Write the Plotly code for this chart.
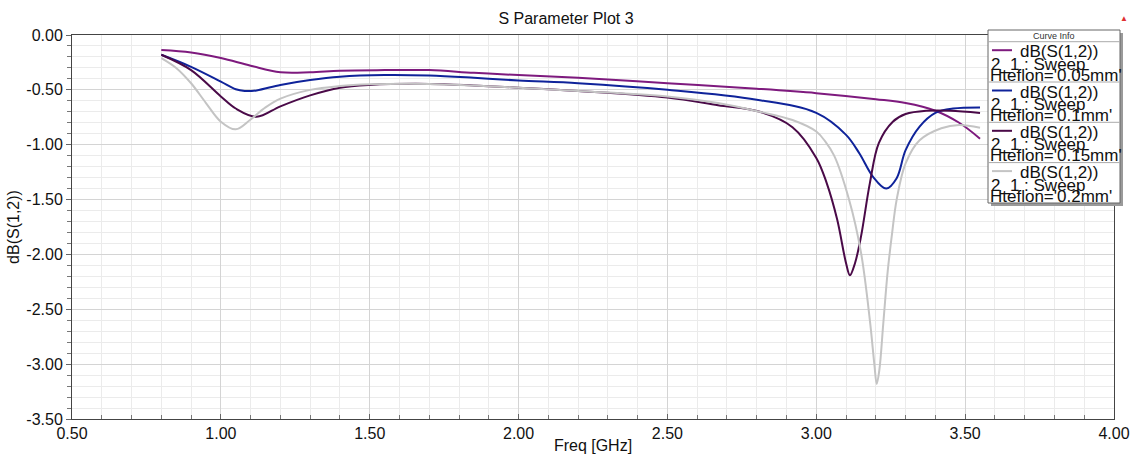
import plotly.graph_objects as go

# ---------------- data ----------------
f_005 = [0.80, 0.90, 1.00, 1.10, 1.20, 1.30, 1.40, 1.55, 1.70, 1.85, 2.00, 2.20, 2.50, 2.80, 3.00,
         3.20, 3.30, 3.40, 3.48, 3.55]
s_005 = [-0.137, -0.16, -0.21, -0.28, -0.34, -0.34, -0.325, -0.32, -0.32, -0.345, -0.365, -0.39,
         -0.44, -0.49, -0.53, -0.585, -0.62, -0.69, -0.80, -0.945]

f_010 = [0.80, 0.90, 1.00, 1.05, 1.08, 1.12, 1.20, 1.30, 1.40, 1.55, 1.70, 1.85, 2.00, 2.20, 2.50,
         2.80, 3.00, 3.10, 3.145, 3.19, 3.235, 3.27, 3.30, 3.347, 3.40, 3.46, 3.55]
s_010 = [-0.18, -0.29, -0.425, -0.495, -0.51, -0.505, -0.455, -0.41, -0.38, -0.365, -0.37, -0.39,
         -0.415, -0.44, -0.50, -0.59, -0.71, -0.91, -1.08, -1.29, -1.40, -1.305, -1.05, -0.835,
         -0.71, -0.67, -0.66]

f_015 = [0.80, 0.90, 1.00, 1.05, 1.12, 1.20, 1.30, 1.40, 1.50, 1.70, 1.85, 2.00, 2.20, 2.50, 2.67,
         2.81, 2.92, 3.00, 3.035, 3.07, 3.10, 3.113, 3.13, 3.15, 3.18, 3.21, 3.257, 3.30, 3.37, 3.45,
         3.55]
s_015 = [-0.18, -0.32, -0.56, -0.67, -0.745, -0.65, -0.55, -0.48, -0.455, -0.446, -0.46, -0.48,
         -0.51, -0.57, -0.64, -0.70, -0.84, -1.12, -1.35, -1.68, -2.08, -2.19, -2.08, -1.84, -1.35,
         -0.985, -0.79, -0.72, -0.69, -0.69, -0.71]

f_020 = [0.80, 0.85, 0.90, 0.95, 1.00, 1.05, 1.10, 1.15, 1.20, 1.30, 1.40, 1.50, 1.70, 1.85, 2.00,
         2.20, 2.50, 2.67, 2.81, 2.92, 3.00, 3.03, 3.06, 3.11, 3.15, 3.18, 3.195, 3.203, 3.212, 3.225,
         3.24, 3.255, 3.27, 3.30, 3.347, 3.42, 3.48, 3.55]
s_020 = [-0.21, -0.30, -0.44, -0.62, -0.79, -0.86, -0.77, -0.66, -0.58, -0.50, -0.465, -0.45, -0.446,
         -0.46, -0.48, -0.51, -0.56, -0.62, -0.70, -0.775, -0.88, -0.97, -1.10, -1.50, -1.98, -2.60,
         -3.00, -3.18, -3.05, -2.63, -2.15, -1.80, -1.50, -1.17, -0.96, -0.85, -0.82, -0.845]

series_names = ["Hteflon='0.05mm'", "Hteflon='0.1mm'", "Hteflon='0.15mm'", "Hteflon='0.2mm'"]
series_colors = ["#7E1A7E", "#0F239A", "#4A0A48", "#C4C4C4"]

x_tickvals = [0.5, 1.0, 1.5, 2.0, 2.5, 3.0, 3.5, 4.0]
x_ticktext = ["0.50", "1.00", "1.50", "2.00", "2.50", "3.00", "3.50", "4.00"]
y_tickvals = [0.0, -0.5, -1.0, -1.5, -2.0, -2.5, -3.0, -3.5]
y_ticktext = ["0.00", "-0.50", "-1.00", "-1.50", "-2.00", "-2.50", "-3.00", "-3.50"]

# ---------------- figure ----------------
W, H = 1132, 454
ML, MR, MT, MB = 72, 18, 35, 35
PW, PH = W - ML - MR, H - MT - MB


def px(x):
    return (x - ML) / PW


def py(y):
    return (H - MB - y) / PH


FONT = "Arial, Liberation Sans, sans-serif"
fig = go.Figure()
data = [(f_005, s_005), (f_010, s_010), (f_015, s_015), (f_020, s_020)]
for (f, s), name, col in zip(data, series_names, series_colors):
    fig.add_trace(go.Scatter(x=f, y=s, mode="lines", name=name,
                             line=dict(color=col, width=2, shape="spline", smoothing=1.0)))

fig.update_layout(
    width=W, height=H,
    margin=dict(l=ML, r=MR, t=MT, b=MB, autoexpand=False),
    paper_bgcolor="white", plot_bgcolor="white",
    showlegend=False,
    font=dict(family=FONT, size=16, color="#111"),
    title=dict(text="S Parameter Plot 3", x=0.5, xref="container", xanchor="center",
               y=1 - 18 / H, yanchor="middle",
               font=dict(size=16, family=FONT, color="#111")),
)

fig.update_xaxes(range=[0.5, 4.0], tickvals=x_tickvals, ticktext=x_ticktext, automargin=False,
                 showgrid=True, gridcolor="#D4D4D4", gridwidth=1,
                 showline=True, linecolor="#444", linewidth=1, mirror=True,
                 ticks="inside", ticklen=5, tickcolor="#666",
                 minor=dict(dtick=0.1, showgrid=True, gridcolor="#EBEBEB", ticks="inside", ticklen=4,
                            tickcolor="#777"),
                 tickfont=dict(size=16), zeroline=False,
                 title=dict(text="Freq [GHz]", font=dict(size=16), standoff=0))
fig.update_yaxes(range=[-3.5, 0.0], tickvals=y_tickvals, ticktext=y_ticktext, automargin=False,
                 showgrid=True, gridcolor="#D4D4D4", gridwidth=1,
                 showline=True, linecolor="#444", linewidth=1, mirror=True,
                 ticks="outside", ticklen=5, tickcolor="#666",
                 minor=dict(dtick=0.1, showgrid=True, gridcolor="#EBEBEB", ticks="outside", ticklen=4,
                            tickcolor="#777"),
                 tickfont=dict(size=16), zeroline=False,
                 title=dict(text="dB(S(1,2))", font=dict(size=16), standoff=2))

# ---------------- legend box (Curve Info) ----------------
bx0, bx1, by0, by1 = 988, 1120, 30, 203
shapes = []
shapes.append(dict(type="rect", xref="paper", yref="paper", x0=px(bx0 + 3), x1=px(bx1 + 3),
                   y0=py(by0 + 3), y1=py(by1 + 3), fillcolor="#9A9A9A", line=dict(width=0)))
shapes.append(dict(type="rect", xref="paper", yref="paper", x0=px(bx0), x1=px(bx1),
                   y0=py(by0), y1=py(by1), fillcolor="white", line=dict(color="#666", width=1)))
annotations = [dict(text="Curve Info", xref="paper", yref="paper", x=px((bx0 + bx1) / 2), y=py(36),
                    showarrow=False, font=dict(size=9, family=FONT, color="#333"),
                    xanchor="center", yanchor="middle")]
entry_top0, entry_h = 41.7, 40.3
for i, (name, col) in enumerate(zip(series_names, series_colors)):
    top = entry_top0 + i * entry_h
    shapes.append(dict(type="line", xref="paper", yref="paper", x0=px(bx0), x1=px(bx1),
                       y0=py(top), y1=py(top), line=dict(color="#AAA", width=1)))
    shapes.append(dict(type="line", xref="paper", yref="paper", x0=px(992), x1=px(1012),
                       y0=py(top + 8.5), y1=py(top + 8.5), line=dict(color=col, width=2)))
    lines = [("dB(S(1,2))", 1018, top + 10), ("2_1 : Sweep", 989, top + 22.5),
             (name, 988, top + 33.5)]
    for txt, xx, yy in lines:
        annotations.append(dict(text=txt, xref="paper", yref="paper", x=px(xx), y=py(yy),
                                showarrow=False, xanchor="left", yanchor="middle",
                                font=dict(size=17, family=FONT, color="#111")))

annotations.append(dict(text="▲", xref="paper", yref="paper", x=px(1124), y=py(18), showarrow=False,
                        font=dict(size=8, color="#E03030"), xanchor="center", yanchor="middle"))

fig.update_layout(shapes=shapes, annotations=annotations)

fig.write_html("out.html")
